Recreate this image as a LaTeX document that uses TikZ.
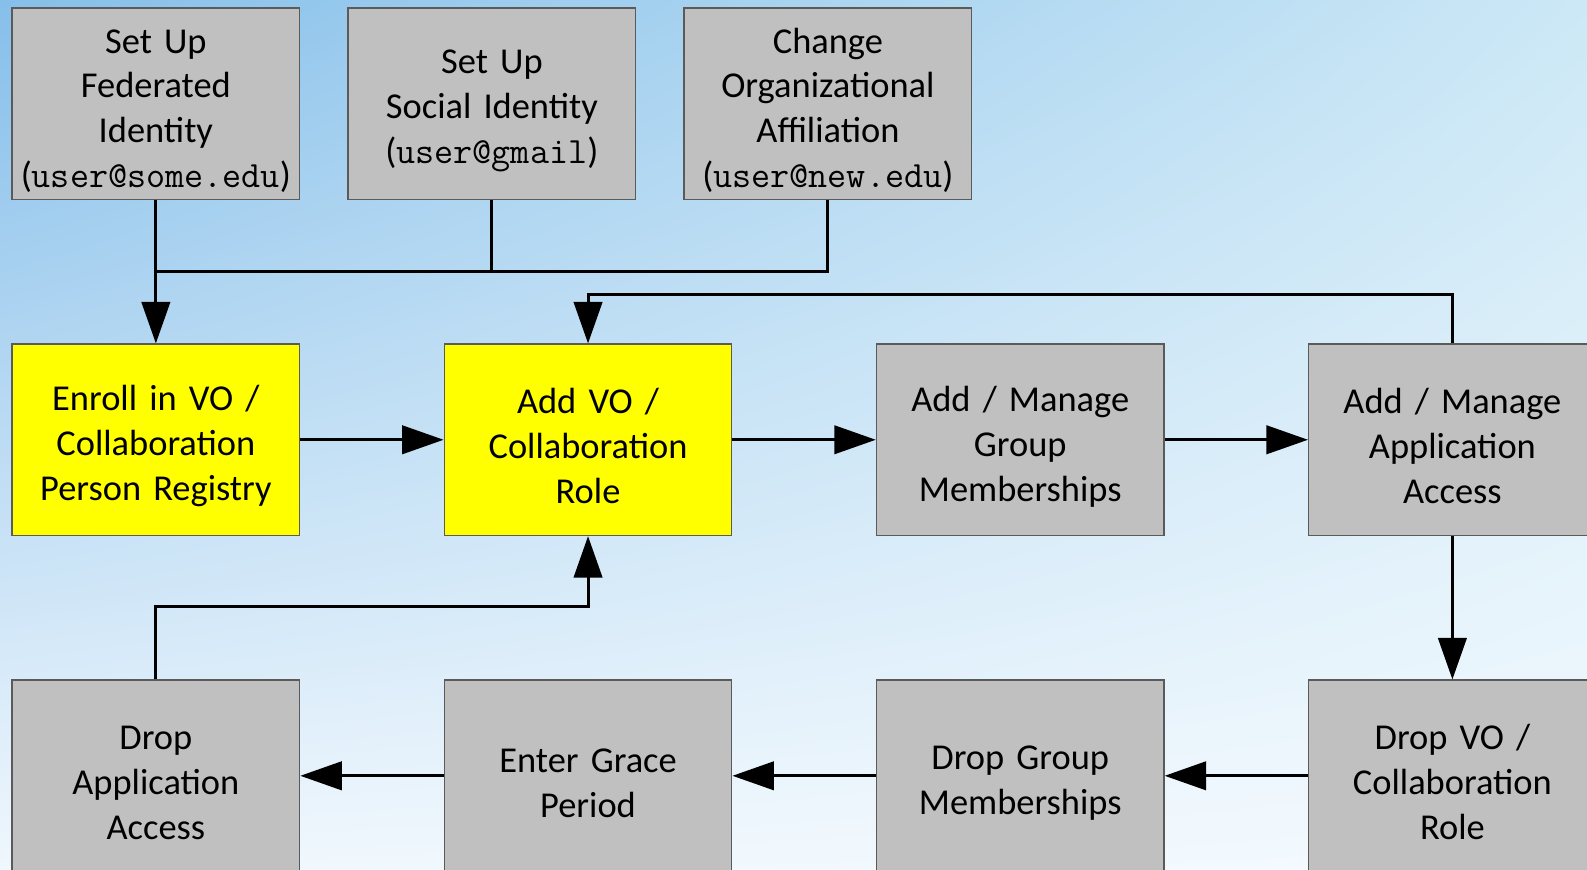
\documentclass[tikz,border=0pt]{standalone}
\usepackage{fontspec}
\setmainfont{Carlito}
\usetikzlibrary{arrows.meta,shadings}

\definecolor{boxgray}{HTML}{C0C0C0}
\definecolor{boxedge}{HTML}{5A5A5A}
\definecolor{keyyellow}{HTML}{FFFF00}
\definecolor{bgtl}{HTML}{86BFEA}
\definecolor{bgtr}{HTML}{CCE8F6}
\definecolor{bgbl}{HTML}{F0F7FD}
\definecolor{bgbr}{HTML}{F4FAFE}

\tikzset{
  stepbox/.style={draw=boxedge, line width=0.7pt, fill=boxgray,
    minimum width=142pt, minimum height=94.5pt, inner sep=0pt,
    text width=140pt, align=center,
    font=\fontsize{18}{22.2}\selectfont,
    execute at begin node={\rule{0pt}{19pt}}},
  keybox/.style={stepbox, fill=keyyellow},
  link/.style={line width=1.5pt, draw=black},
  flow/.style={link, -{Triangle[length=20.5pt,width=14pt]}}
}

\newcommand{\mailaddr}[1]{(\texttt{\fontsize{18.3}{22}\selectfont #1})}

\begin{document}
\begin{tikzpicture}[x=0.5pt,y=-0.5pt]
  \useasboundingbox (0,0) rectangle (1568,859);
  \clip (0,0) rectangle (1568,859);
  \shade[upper left=bgtl, upper right=bgtr, lower left=bgbl, lower right=bgbr]
    (0,0) rectangle (1568,859);

  % identity sources
  \node[stepbox] (fed) at (154,102.5) {Set Up\\Federated\\Identity\\\mailaddr{user@some.edu}};
  \node[stepbox] (soc) at (486,102.5) {Set Up\\Social Identity\\\mailaddr{user@gmail}};
  \node[stepbox] (chg) at (818,102.5) {Change\\Organizational\\Affiliation\\\mailaddr{user@new.edu}};

  % provisioning steps
  \node[keybox]  (enr) at (154,434.5)  {Enroll in VO /\\Collaboration\\Person Registry};
  \node[keybox]  (rol) at (581,434.5)  {Add VO /\\Collaboration\\Role};
  \node[stepbox] (grp) at (1008,434.5) {Add / Manage\\Group\\Memberships};
  \node[stepbox] (app) at (1435,434.5) {Add / Manage\\Application\\Access};

  % deprovisioning steps
  \node[stepbox] (dvo) at (1435,766.5) {Drop VO /\\Collaboration\\Role};
  \node[stepbox] (dgr) at (1008,766.5) {Drop Group\\Memberships};
  \node[stepbox] (grc) at (581,766.5)  {Enter Grace\\Period};
  \node[stepbox] (dap) at (154,766.5)  {Drop\\Application\\Access};

  % identity sources merge into enrollment
  \coordinate (jn) at (154,268);
  \draw[link] (soc.south) |- (jn);
  \draw[link] (chg.south) |- (jn);
  \draw[flow] (fed.south) -- (enr.north);

  % main flow
  \draw[flow] (enr) -- (rol);
  \draw[flow] (rol) -- (grp);
  \draw[flow] (grp) -- (app);
  \draw[flow] (app) -- (dvo);
  \draw[flow] (dvo) -- (dgr);
  \draw[flow] (dgr) -- (grc);
  \draw[flow] (grc) -- (dap);

  % feedback loops into role assignment
  \draw[flow] (app.north) -- ++(0,-48) -| (rol.north);
  \draw[flow] (dap.north) -- ++(0,-72) -| (rol.south);
\end{tikzpicture}
\end{document}
